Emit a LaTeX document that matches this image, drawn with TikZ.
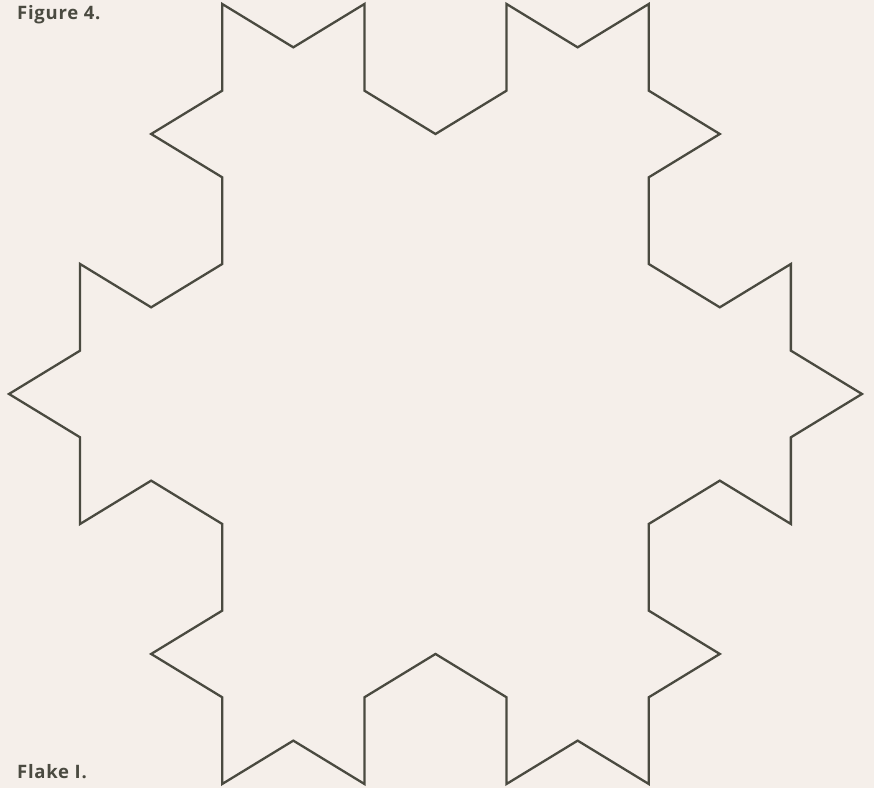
\documentclass[tikz,border=0pt]{standalone}
\usepackage{fontspec}
\setmainfont{Lato}
\newfontfamily\capfont[LetterSpace=4]{Open Sans}
\definecolor{paper}{HTML}{F5EFEA}
\definecolor{ink}{HTML}{4A4A40}
\tikzset{
  flake/.style={draw=ink, line width=2.3pt, line join=miter},
  caption/.style={anchor=west, inner sep=0pt, text=ink, font=\capfont\bfseries\fontsize{18.5}{20}\selectfont}
}
\begin{document}
\begin{tikzpicture}[x=1pt,y=-1pt]
\fill[paper] (0,0) rectangle (874,788);
\useasboundingbox (0,0) rectangle (874,788);
\node[caption] (fig) at (17,15) {Figure 4.};
\node[caption] (flk) at (17,772) {Flake I.};
\begin{scope}[shift={(9pt,-4pt)}, x=71.08pt, y=-43.33pt]
\draw[flake] (3,0) -- (4,1) -- (5,0) -- (5,2) -- (6,3) -- (7,2) -- (7,0) -- (8,1) -- (9,0)
 -- (9,2) -- (10,3) -- (9,4) -- (9,6) -- (10,7) -- (11,6) -- (11,8) -- (12,9)
 -- (11,10) -- (11,12) -- (10,11) -- (9,12) -- (9,14) -- (10,15) -- (9,16) -- (9,18)
 -- (8,17) -- (7,18) -- (7,16) -- (6,15) -- (5,16) -- (5,18) -- (4,17) -- (3,18)
 -- (3,16) -- (2,15) -- (3,14) -- (3,12) -- (2,11) -- (1,12) -- (1,10) -- (0,9)
 -- (1,8) -- (1,6) -- (2,7) -- (3,6) -- (3,4) -- (2,3) -- (3,2) -- cycle;
\end{scope}
\end{tikzpicture}
\end{document}
